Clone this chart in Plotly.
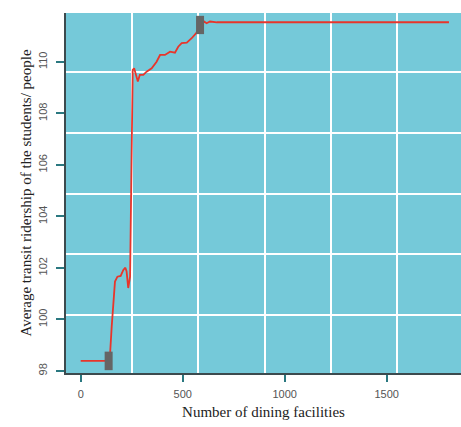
import plotly.graph_objects as go

# Curve: number of dining facilities vs average transit ridership
facilities = [0, 60, 119, 135, 144, 152, 160, 168, 180, 196, 209, 219, 225, 233, 242, 246,
              250, 255, 262, 270, 280, 290, 307, 323, 348, 372, 389, 413, 438, 462, 478,
              495, 520, 544, 565, 605, 617, 634, 667, 900, 1200, 1500, 1805]
ridership = [98.39, 98.39, 98.39, 98.45, 98.66, 99.72, 100.76, 101.47, 101.66, 101.69, 101.92,
             102.01, 101.86, 101.22, 101.66, 104.5, 107.5, 109.69, 109.75, 109.56, 109.24,
             109.5, 109.5, 109.62, 109.75, 110.01, 110.27, 110.27, 110.4, 110.36, 110.59,
             110.73, 110.75, 110.92, 111.11, 111.57, 111.5, 111.57, 111.54, 111.54, 111.54,
             111.54, 111.54]

# Grey marker boxes (start / end of the rise)
box_x = [137, 585]
box_low = [98.03, 111.08]
box_high = [98.75, 111.79]

x_ticks = [0, 500, 1000, 1500]
y_ticks = [98, 100, 102, 104, 106, 108, 110]

x_range = [-72, 1864]
y_range = [97.92, 111.9]

fig = go.Figure()

# invisible trace for grid overlay axes
fig.add_trace(go.Scatter(x=[x_range[0]], y=[y_range[0]], xaxis="x2", yaxis="y2",
                         mode="markers", marker=dict(opacity=0), showlegend=False,
                         hoverinfo="skip"))

fig.add_trace(go.Scatter(x=facilities, y=ridership, mode="lines",
                         line=dict(color="#e8352b", width=1.8), showlegend=False))

for bx, lo, hi in zip(box_x, box_low, box_high):
    fig.add_trace(go.Scatter(x=[bx, bx], y=[lo, hi], mode="lines",
                             line=dict(color="#656565", width=8), showlegend=False))

fig.update_layout(
    width=461, height=427,
    margin=dict(l=66, r=0, t=13, b=54),
    paper_bgcolor="white",
    plot_bgcolor="#75c9d9",
    xaxis=dict(range=x_range, tickvals=x_ticks, showgrid=False, zeroline=False,
               showline=True, linecolor="#3c4a4e", linewidth=2,
               ticks="outside", ticklen=7, tickcolor="#2a7880", tickwidth=2,
               ticklabelstandoff=3,
               tickfont=dict(family="Liberation Sans, Arial", size=11, color="#555555"),
               title=dict(text="Number of dining facilities", standoff=7,
                          font=dict(family="Liberation Serif, Times New Roman", size=15,
                                    color="#222222"))),
    yaxis=dict(range=y_range, tickvals=y_ticks, showgrid=False, zeroline=False,
               showline=True, linecolor="#3c4a4e", linewidth=2,
               ticks="outside", ticklen=8, tickcolor="#2a7880", tickwidth=2,
               tickangle=-90, ticklabelstandoff=5,
               tickfont=dict(family="Liberation Sans, Arial", size=11, color="#555555"),
               title=dict(text="Average transit ridership of the students/ people", standoff=1,
                          font=dict(family="Liberation Serif, Times New Roman", size=15,
                                    color="#222222"))),
    xaxis2=dict(overlaying="x", range=x_range, tick0=251, dtick=325, showgrid=True,
                gridcolor="white", gridwidth=1.5, showticklabels=False, ticks="",
                zeroline=False, showline=False),
    yaxis2=dict(overlaying="y", range=y_range, tick0=100.17, dtick=2.36, showgrid=True,
                gridcolor="white", gridwidth=1.5, showticklabels=False, ticks="",
                zeroline=False, showline=False),
)

fig.write_html("out.html")
